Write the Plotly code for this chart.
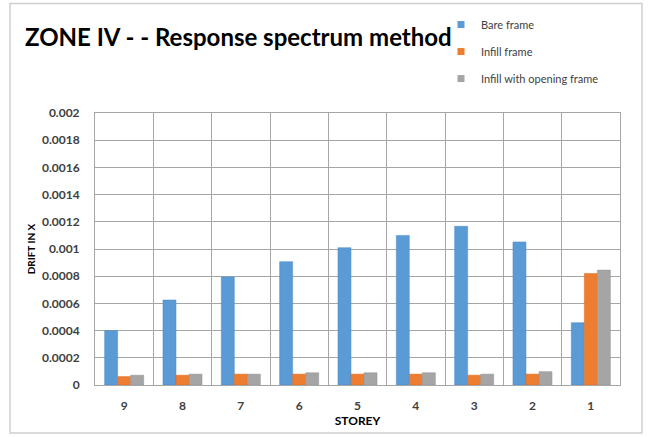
import plotly.graph_objects as go

storeys = ["9", "8", "7", "6", "5", "4", "3", "2", "1"]
bare_frame = [0.000400, 0.000625, 0.000795, 0.000907, 0.001010, 0.001100, 0.001167, 0.001052, 0.000458]
infill_frame = [0.000062, 0.000072, 0.000080, 0.000080, 0.000080, 0.000080, 0.000072, 0.000080, 0.000820]
infill_opening = [0.000072, 0.000080, 0.000080, 0.000090, 0.000090, 0.000090, 0.000080, 0.000098, 0.000845]

series_names = ["Bare frame", "Infill frame", "Infill with opening frame"]
series_colors = ["#5B9BD5", "#ED7D31", "#A5A5A5"]
series_edges = ["#4A8AC8", "#E06A1C", "#959595"]

font_family = "Lato, 'Open Sans', sans-serif"

fig = go.Figure()
for i, (name, vals) in enumerate(zip(series_names, [bare_frame, infill_frame, infill_opening])):
    fig.add_trace(go.Bar(
        x=storeys, y=vals, name=name,
        marker=dict(color=series_colors[i], line=dict(color=series_edges[i], width=0.5)),
        legendgroup=f"g{i}", showlegend=False,
    ))
    # legend proxy with a small square symbol
    fig.add_trace(go.Scatter(
        x=[None], y=[None], mode="markers", name=name,
        marker=dict(symbol="square", size=7, color=series_colors[i]),
        legendgroup=f"g{i}", showlegend=True,
    ))

fig.update_layout(
    width=650, height=437,
    margin=dict(l=95, r=30, t=112, b=52),
    paper_bgcolor="white", plot_bgcolor="white",
    barmode="group", bargap=0.33, bargroupgap=0,
    font=dict(family=font_family, color="#404040"),
    title=dict(text="<b>ZONE IV - - Response spectrum method</b>",
               x=25/650, xanchor="left", y=1-38/437, yanchor="middle",
               font=dict(size=24, color="black", family=font_family)),
    legend=dict(x=(441-95)/525, xanchor="left", y=(385-11)/272.3, yanchor="top",
                font=dict(size=11, color="#404040", family=font_family),
                traceorder="grouped", tracegroupgap=8, itemwidth=30,
                bgcolor="rgba(0,0,0,0)"),
)

fig.update_xaxes(
    type="category", tickson="boundaries",
    showgrid=True, gridcolor="#A6A6A6", gridwidth=1,
    showline=True, linecolor="#A6A6A6", linewidth=1, mirror=True,
    ticks="", tickfont=dict(size=12, color="#404040", family=font_family, weight="bold"),
    ticklabelstandoff=10,
    title=dict(text="<b>STOREY</b>", font=dict(size=12, color="black", family=font_family), standoff=4),
)
fig.update_yaxes(
    range=[0, 0.002], dtick=0.0002, tickformat="~g",
    showgrid=True, gridcolor="#A6A6A6", gridwidth=1,
    showline=True, linecolor="#A6A6A6", linewidth=1, mirror=True,
    zeroline=False,
    ticks="", tickfont=dict(size=12, color="#404040", family=font_family, weight="bold"),
    ticklabelstandoff=12,
    title=dict(text="<b>DRIFT IN X</b>", font=dict(size=10, color="black", family=font_family), standoff=4),
)

fig.add_shape(type="rect", xref="paper", yref="paper",
              x0=(10-95)/525, x1=(642-95)/525, y0=(385-433)/272.3, y1=(385-3)/272.3,
              line=dict(color="#D0D0D0", width=1.5), fillcolor="rgba(0,0,0,0)", layer="below")

fig.write_html("out.html")
